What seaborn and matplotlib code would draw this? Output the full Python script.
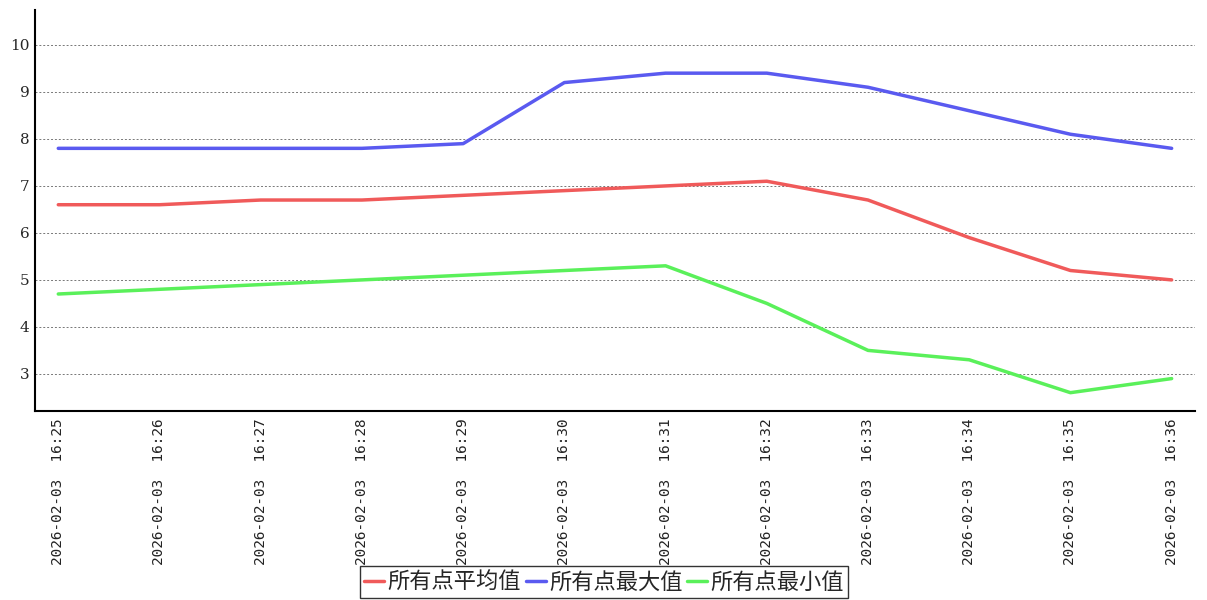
import matplotlib
matplotlib.use("Agg")
import matplotlib.pyplot as plt
import pandas as pd
import seaborn as sns

# Data
times = ["2026-02-03  16:25", "2026-02-03  16:26", "2026-02-03  16:27", "2026-02-03  16:28",
         "2026-02-03  16:29", "2026-02-03  16:30", "2026-02-03  16:31", "2026-02-03  16:32",
         "2026-02-03  16:33", "2026-02-03  16:34", "2026-02-03  16:35", "2026-02-03  16:36"]
avg_vals = [6.6, 6.6, 6.7, 6.7, 6.8, 6.9, 7.0, 7.1, 6.7, 5.9, 5.2, 5.0]
max_vals = [7.8, 7.8, 7.8, 7.8, 7.9, 9.2, 9.4, 9.4, 9.1, 8.6, 8.1, 7.8]
min_vals = [4.7, 4.8, 4.9, 5.0, 5.1, 5.2, 5.3, 4.5, 3.5, 3.3, 2.6, 2.9]
series_names = ["所有点平均值", "所有点最大值", "所有点最小值"]
colors = ["#f05a5a", "#5a5af0", "#5af05a"]

df = pd.DataFrame({"时间": times, series_names[0]: avg_vals,
                   series_names[1]: max_vals, series_names[2]: min_vals})
long_df = df.melt(id_vars="时间", var_name="系列", value_name="值")
long_df["时间"] = pd.Categorical(long_df["时间"], categories=times, ordered=True)

sns.set_style("white")
plt.rcParams["font.family"] = ["Noto Sans CJK SC", "DejaVu Sans"]

fig = plt.figure(figsize=(12.07, 6), dpi=100)
ax = fig.add_axes([0.029, 0.315, 0.961, 0.668])

sns.lineplot(data=long_df, x="时间", y="值", hue="系列", hue_order=series_names,
             palette=colors, linewidth=2.5, ax=ax, sort=False)

ax.set_xlim(-0.23, 11.23)
ax.set_ylim(2.21, 10.74)
ax.set_yticks(range(3, 11))
ax.set_yticklabels([str(v) for v in range(3, 11)], family="DejaVu Serif", fontsize=11)
ax.set_xticks(range(len(times)))
ax.set_xticklabels(times, rotation=90, family="DejaVu Sans Mono", fontsize=10.4, color="#222222")
ax.tick_params(axis="x", length=3, width=0.8, pad=2)
ax.tick_params(axis="y", length=0, pad=4)
ax.set_xlabel("")
ax.set_ylabel("")

ax.yaxis.grid(True, linestyle=(0, (2, 2)), color="#777777", linewidth=0.7)
ax.xaxis.grid(False)
for side in ["top", "right"]:
    ax.spines[side].set_visible(False)
ax.spines["left"].set_linewidth(1.5)
ax.spines["bottom"].set_linewidth(1.5)
ax.spines["left"].set_color("black")
ax.spines["bottom"].set_color("black")

handles, labels = ax.get_legend_handles_labels()
ax.get_legend().remove()
leg = fig.legend(handles, labels, loc="lower center", bbox_to_anchor=(0.5004, 0.003), ncol=3,
                 frameon=True, fancybox=False, fontsize=16, handlelength=0.9,
                 handletextpad=0.15, columnspacing=0.2, borderpad=0.2, borderaxespad=0)
leg.get_frame().set_edgecolor("black")
leg.get_frame().set_linewidth(1.0)

fig.savefig("out.png", dpi=100)
